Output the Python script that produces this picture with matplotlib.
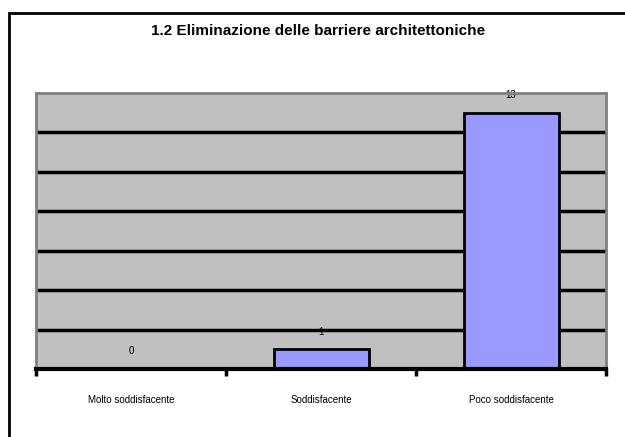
import matplotlib
matplotlib.use("Agg")
import matplotlib.pyplot as plt
from matplotlib.patches import Rectangle

categories = ["Molto soddisfacente", "Soddisfacente", "Poco soddisfacente"]
values = [0, 1, 13]
title = "1.2 Eliminazione delle barriere architettoniche"

plt.rcParams['font.family'] = ['Liberation Sans', 'DejaVu Sans']

W, H = 625, 437
fig = plt.figure(figsize=(W/100, H/100), dpi=100)
fig.patch.set_facecolor('white')

# outer frame
fig.patches.append(Rectangle((9/W, -0.1), 1.2, 1 - 13/H + 0.1, transform=fig.transFigure,
                             fill=False, edgecolor='black', linewidth=2))

left, right, top, bottom = 36, 606, 93, 369
ax = fig.add_axes([left/W, 1 - bottom/H, (right-left)/W, (bottom-top)/H])
ax.set_facecolor('#C0C0C0')
x = list(range(len(categories)))
ax.set_xlim(-0.5, len(categories) - 0.5)
ax.set_ylim(0, 14)

for yv in [2, 4, 6, 8, 10, 12]:
    ax.axhline(yv, color='black', linewidth=2.5, zorder=2)

ax.bar(x, values, width=0.5, color='#9999FF', edgecolor='black', linewidth=2, zorder=3)
for xi, v in zip(x, values):
    ax.annotate(str(v), (xi, v), xytext=(0, 9), textcoords='offset points',
                ha='center', va='bottom', fontsize=7, zorder=1, annotation_clip=False)

for s in ['top', 'right', 'left']:
    ax.spines[s].set_color('#808080')
    ax.spines[s].set_linewidth(2)
ax.spines['bottom'].set_color('black')
ax.spines['bottom'].set_linewidth(3)
ax.spines['bottom'].set_zorder(4)

ax.set_yticks([])
ax.set_xticks([-0.5, 0.5, 1.5, 2.5])
ax.set_xticklabels([])
ax.set_xticks(x, minor=True)
ax.set_xticklabels(categories, minor=True, fontsize=7)
ax.tick_params(axis='x', which='major', length=5, width=2.5, color='black', direction='out')
ax.tick_params(axis='x', which='minor', length=0, pad=19)

fig.text(318/W, 1 - 31/H, title, ha='center', va='center', fontsize=11, fontweight='bold')

fig.savefig("out.png", dpi=100)
